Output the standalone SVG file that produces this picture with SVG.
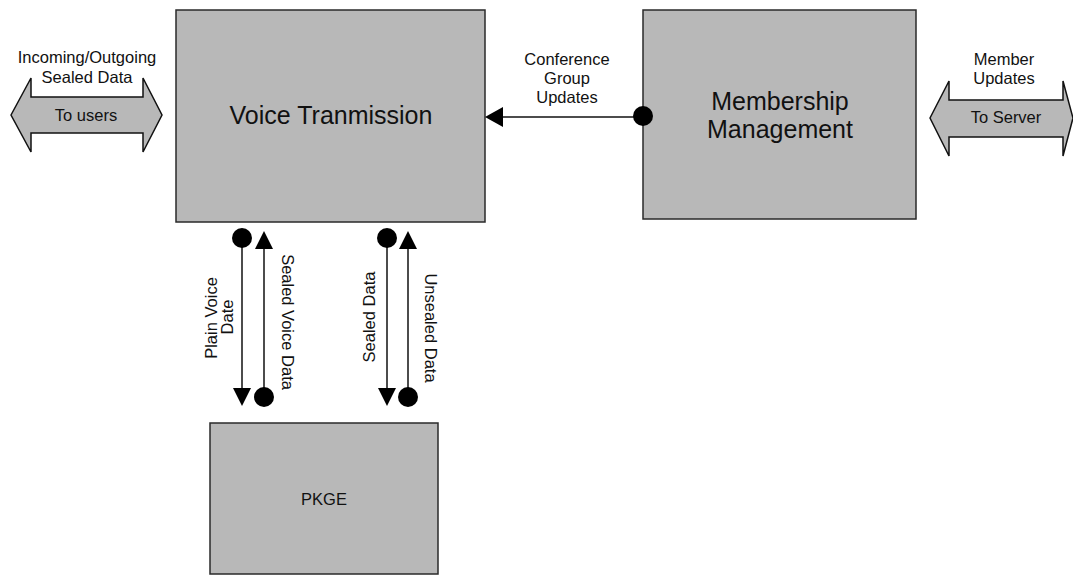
<svg xmlns="http://www.w3.org/2000/svg" width="1073" height="576" viewBox="0 0 1073 576">
<defs>
<style>
.box{fill:#b8b8b8;stroke:#2a2a2a;stroke-width:1.5}
.arr{fill:#b8b8b8;stroke:#111;stroke-width:1.5;stroke-linejoin:miter}
.t{font-family:"Liberation Sans",Arial,sans-serif;fill:#111;text-anchor:middle}
.s{font-size:16.5px}
.b{font-size:25px}
.ln{stroke:#111;stroke-width:1.5;fill:none}
.dot{fill:#000}
.head{fill:#000}
</style>
</defs>
<rect width="1073" height="576" fill="#fff"/>

<g id="users-arrow">
<polygon class="arr" points="11,115 31,78 31,97 143,97 143,78 162,115 143,152 143,133 31,133 31,152"/>
<text class="t s" x="87" y="63">Incoming/Outgoing</text>
<text class="t s" x="87" y="83">Sealed Data</text>
<text class="t s" x="86" y="121">To users</text>
</g>

<g id="server-arrow">
<polygon class="arr" points="930,118 949,81 949,100 1063,100 1063,81 1073,118 1063,156 1063,137 949,137 949,156"/>
<text class="t s" x="1004" y="65">Member</text>
<text class="t s" x="1004" y="84">Updates</text>
<text class="t s" x="1006" y="123">To Server</text>
</g>

<g id="voice-transmission">
<rect class="box" x="176" y="10" width="309" height="212"/>
<text class="t b" x="331" y="124">Voice Tranmission</text>
</g>

<g id="membership-management">
<rect class="box" x="643" y="10" width="273" height="209"/>
<text class="t b" x="780" y="110">Membership</text>
<text class="t b" x="780" y="138">Management</text>
</g>

<g id="pkge">
<rect class="box" x="210" y="423" width="228" height="151"/>
<text class="t s" x="324" y="505">PKGE</text>
</g>

<g id="connectors">
<!-- Conference Group Updates -->
<line class="ln" x1="643" y1="117" x2="502" y2="117"/>
<polygon class="head" points="485,117 503,107 503,127"/>
<circle class="dot" cx="643" cy="116" r="10"/>
<text class="t s" x="567" y="65">Conference</text>
<text class="t s" x="567" y="84">Group</text>
<text class="t s" x="567" y="103">Updates</text>

<!-- Plain Voice Date -->
<line class="ln" x1="242" y1="238" x2="242" y2="390"/>
<circle class="dot" cx="242" cy="238" r="10"/>
<polygon class="head" points="242,406 233,388 251,388"/>
<text class="t s" transform="translate(217,318) rotate(-90)">Plain Voice</text>
<text class="t s" transform="translate(233,317) rotate(-90)">Date</text>

<!-- Sealed Voice Data -->
<line class="ln" x1="264" y1="247" x2="264" y2="397"/>
<polygon class="head" points="264,231 255,249 273,249"/>
<circle class="dot" cx="264" cy="397" r="10"/>
<text class="t s" transform="translate(282,322) rotate(90)">Sealed Voice Data</text>

<!-- Sealed Data -->
<line class="ln" x1="387" y1="238" x2="387" y2="390"/>
<circle class="dot" cx="387" cy="238" r="10"/>
<polygon class="head" points="387,406 378,388 396,388"/>
<text class="t s" transform="translate(375,317) rotate(-90)">Sealed Data</text>

<!-- Unsealed Data -->
<line class="ln" x1="408" y1="247" x2="408" y2="397"/>
<polygon class="head" points="408,231 399,249 417,249"/>
<circle class="dot" cx="408" cy="397" r="10"/>
<text class="t s" transform="translate(425,328) rotate(90)">Unsealed Data</text>
</g>
</svg>
